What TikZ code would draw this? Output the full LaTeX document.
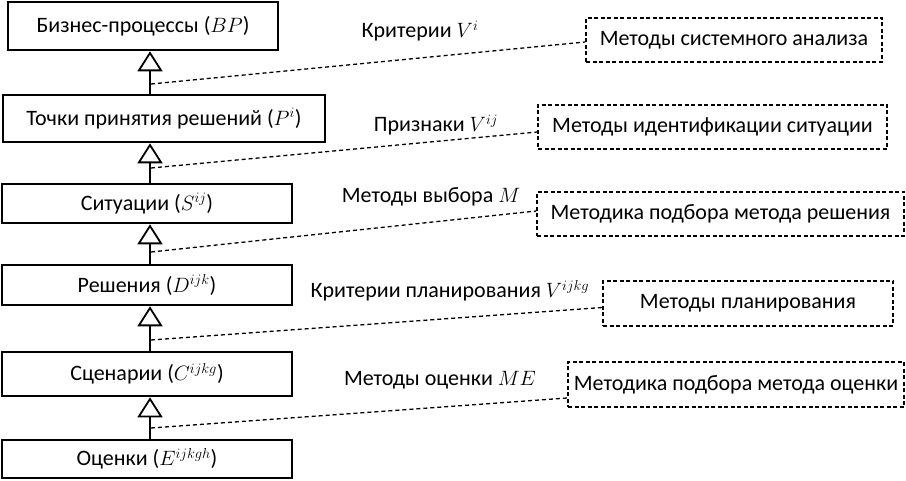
\documentclass[tikz,border=0pt]{standalone}
\usepackage{fontspec}
\setmainfont{Carlito}
\usetikzlibrary{arrows.meta}
\begin{document}
\begin{tikzpicture}[x=1pt,y=-1pt,
  every node/.style={font=\fontsize{22}{24}\selectfont},
  lbox/.style={draw, line width=2.6pt, inner sep=0pt},
  rbox/.style={draw, dashed, dash pattern=on 4pt off 2.5pt, line width=1.5pt, inner sep=0pt},
  lbl/.style={inner sep=0pt},
  gen/.style={line width=2.6pt, -{Triangle[open, fill=white, line width=1.8pt, length=20pt, width=25pt]}},
  dl/.style={dashed, dash pattern=on 4pt off 3pt, line width=1.3pt}]
\useasboundingbox (0,0) rectangle (906,481);
% left boxes
\node[lbox, minimum width=270pt, minimum height=48pt] (b1) at (143,26) {Бизнес-процессы ($BP$)};
\node[lbox, minimum width=322pt, minimum height=47pt] (b2) at (164,118.5) {Точки принятия решений ($P^i$)};
\node[lbox, minimum width=290pt, minimum height=39pt] (b3) at (147,203.5) {Ситуации ($S^{ij}$)};
\node[lbox, minimum width=290pt, minimum height=40pt] (b4) at (147,285) {Решения ($D^{ijk}$)};
\node[lbox, minimum width=290pt, minimum height=44pt] (b5) at (147,374) {Сценарии ($C^{ijkg}$)};
\node[lbox, minimum width=290pt, minimum height=38pt] (b6) at (147,459) {Оценки ($E^{ijkgh}$)};
\coordinate (ax) at (150,0);
\draw[gen] (ax |- b2.north) -- (ax |- b1.south);
\draw[gen] (ax |- b3.north) -- (ax |- b2.south);
\draw[gen] (ax |- b4.north) -- (ax |- b3.south);
\draw[gen] (ax |- b5.north) -- (ax |- b4.south);
\draw[gen] (ax |- b6.north) -- (ax |- b5.south);
% right boxes
\node[rbox, minimum width=296pt, minimum height=44pt] (rA) at (734,40) {Методы системного анализа};
\node[rbox, minimum width=349pt, minimum height=44pt] (rB) at (712.5,127) {Методы идентификации ситуации};
\node[rbox, minimum width=367pt, minimum height=44pt] (rC) at (720.5,214) {Методика подбора метода решения};
\node[rbox, minimum width=290pt, minimum height=45pt] (rD) at (748,303.5) {Методы планирования};
\node[rbox, minimum width=336pt, minimum height=45pt] (rE) at (736,384.5) {Методика подбора метода оценки};
% labels
\node[lbl] (l1) at (420,31) {Критерии $V^i$};
\node[lbl] (l2) at (436,125) {Признаки $V^{ij}$};
\node[lbl] (l3) at (431,197) {Методы выбора $M$};
\node[lbl] (l4) at (450,291) {Критерии планирования $V^{ijkg}$};
\node[lbl] (l5) at (440,380) {Методы оценки $ME$};
% dashed connectors
\coordinate (c1) at (151,84);
\coordinate (c2) at (151,168);
\coordinate (c3) at (151,252);
\coordinate (c4) at (151,340);
\coordinate (c5) at (151,428);
\draw[dl] (c1) -- ([yshift=-2pt]rA.west);
\draw[dl] (c2) -- ([yshift=-5pt]rB.west);
\draw[dl] (c3) -- ([yshift=3pt]rC.west);
\draw[dl] (c4) -- ([yshift=-4pt]rD.west);
\draw[dl] (c5) -- ([yshift=-13.5pt]rE.west);
\end{tikzpicture}
\end{document}
